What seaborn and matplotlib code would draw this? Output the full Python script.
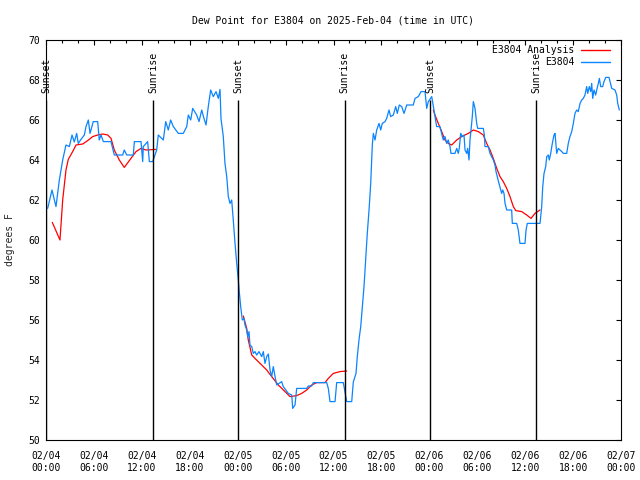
import numpy as np
import pandas as pd
import matplotlib
matplotlib.use("Agg")
import matplotlib.pyplot as plt
import matplotlib.dates as mdates
from matplotlib.lines import Line2D
import seaborn as sns

# ---------------- data ----------------
start = pd.Timestamp("2025-02-04 00:00")

blue_hours = [0.21, 0.75, 1.25, 1.67, 2.09, 2.50, 2.92, 3.26, 3.54, 3.84, 4.04, 4.38, 4.80, 5.01,
              5.30, 5.51, 5.92, 6.47, 6.67, 6.89, 7.18, 8.14, 8.55, 9.60, 9.80, 10.11, 10.93, 11.06,
              11.90, 12.11, 12.18, 12.73, 12.94, 13.36, 13.86, 14.06, 14.69, 14.99, 15.31, 15.61,
              15.94, 16.57, 17.19, 17.62, 17.82, 18.12, 18.37, 18.87, 19.16, 19.50, 19.78, 20.04,
              20.32, 20.62, 20.95, 21.29, 21.58, 21.79, 21.91, 22.20, 22.41, 22.63, 22.83, 23.04,
              23.25, 23.45, 23.67, 23.88, 24.08, 24.20, 24.38, 24.58, 24.79, 24.92, 25.13, 25.26,
              25.42, 25.54, 25.76, 25.96, 26.17, 26.38, 26.67, 27.01, 27.21, 27.42, 27.64, 27.84,
              28.05, 28.26, 28.46, 28.68, 28.89, 29.51, 29.71, 30.34, 30.77, 30.89, 31.18, 31.39,
              32.64, 32.85, 33.27, 33.47, 35.15, 35.35, 35.56, 36.19, 36.40, 37.23, 37.65, 38.28,
              38.48, 38.82, 38.98, 39.19, 39.41, 39.61, 39.82, 40.03, 40.23, 40.45, 40.66, 40.86,
              40.99, 41.20, 41.41, 41.70, 41.91, 42.11, 42.45, 42.66, 42.95, 43.16, 43.49, 43.79,
              43.99, 44.24, 44.54, 44.83, 45.17, 45.99, 46.21, 46.62, 46.96, 47.46, 47.67, 47.87,
              48.30, 48.50, 48.71, 48.92, 49.33, 49.54, 49.74, 49.96, 50.17, 50.37, 50.59, 50.71,
              51.21, 51.43, 51.63, 51.75, 51.93, 52.13, 52.34, 52.47, 52.68, 52.80, 52.97, 53.09,
              53.22, 53.38, 53.51, 53.72, 53.93, 54.06, 54.76, 54.89, 54.97, 55.38, 55.60, 56.01,
              56.22, 56.35, 56.56, 56.72, 56.94, 57.06, 57.19, 57.35, 57.48, 57.69, 58.31, 58.39,
              58.94, 59.14, 59.35, 59.98, 60.11, 60.27, 61.86, 62.07, 62.20, 62.36, 62.57, 62.70,
              62.90, 63.02, 63.20, 63.40, 63.61, 63.74, 63.95, 64.15, 64.58, 64.78, 65.20, 65.40,
              65.61, 65.83, 66.03, 66.24, 66.45, 66.65, 66.87, 67.08, 67.28, 67.49, 67.70, 67.83,
              68.03, 68.21, 68.33, 68.46, 68.62, 68.83, 68.96, 69.16, 69.29, 69.46, 69.71, 69.87,
              70.09, 70.50, 70.63, 70.84, 71.25, 71.46, 71.59, 71.79]
blue_values = [61.58, 62.50, 61.67, 63.00, 64.00, 64.75, 64.67, 65.25, 64.90, 65.33, 64.83, 65.03, 65.25, 65.67,
               66.00, 65.33, 65.92, 65.92, 65.00, 65.25, 64.92, 64.92, 64.25, 64.25, 64.50, 64.25, 64.25, 64.92,
               64.92, 63.92, 64.67, 64.92, 63.92, 63.92, 64.50, 65.25, 65.00, 65.92, 65.50, 66.00,
               65.67, 65.33, 65.33, 65.67, 66.25, 66.00, 66.58, 66.25, 65.92, 66.50, 66.08, 65.75,
               66.67, 67.50, 67.17, 67.42, 67.08, 67.53, 66.08, 65.17, 63.83, 63.17, 62.17, 61.83,
               62.00, 61.00, 59.83, 58.83, 58.00, 57.42, 56.67, 56.00, 56.08, 55.75, 55.50, 55.17,
               55.42, 54.75, 54.67, 54.33, 54.42, 54.25, 54.42, 54.17, 54.42, 53.83, 54.17, 54.30,
               53.50, 53.17, 53.67, 53.17, 52.75, 52.92, 52.67, 52.33, 52.25, 51.58, 51.75, 52.58,
               52.58, 52.70, 52.70, 52.87, 52.87, 52.58, 51.92, 51.92, 52.87, 52.87, 51.92, 51.92,
               52.90, 53.33, 54.17, 55.00, 55.67, 56.67, 57.67, 59.00, 60.33, 61.50, 62.83, 64.75,
               65.33, 65.00, 65.50, 65.83, 65.50, 65.83, 65.92, 66.08, 66.50, 66.17, 66.25, 66.67,
               66.33, 66.75, 66.67, 66.33, 66.75, 66.75, 67.08, 67.17, 67.42, 67.42, 66.58, 66.92,
               67.17, 66.67, 66.17, 65.67, 65.67, 65.33, 65.00, 65.17, 64.83, 65.00, 64.67, 64.33,
               64.33, 64.58, 64.33, 64.58, 65.33, 65.17, 65.25, 64.50, 64.33, 64.58, 64.00, 65.00,
               65.50, 66.17, 66.92, 66.58, 65.83, 65.58, 65.58, 65.25, 64.67, 64.67, 64.33, 64.00,
               63.75, 63.42, 63.08, 62.83, 62.50, 62.33, 62.50, 62.33, 61.83, 61.50, 61.50, 60.83,
               60.83, 60.50, 59.83, 59.83, 60.50, 60.83, 60.83, 61.67, 62.67, 63.33, 63.67, 64.17,
               64.25, 64.00, 64.33, 64.83, 65.25, 65.33, 64.33, 64.58, 64.42, 64.33, 64.33, 64.83,
               65.17, 65.42, 65.83, 66.33, 66.50, 66.42, 66.83, 67.00, 67.08, 67.25, 67.67, 67.33,
               67.67, 67.42, 67.83, 67.08, 67.50, 67.25, 67.50, 67.83, 68.08, 67.67, 67.67, 67.92,
               68.13, 68.13, 67.92, 67.58, 67.50, 67.25, 66.83, 66.50]

# analysis series; NaN marks a gap between segments
red_hours = [0.79, 1.75, 2.09, 2.50, 2.79, 3.34, 3.76, 4.60, 5.22, 5.85, 6.47, 7.10, 7.73, 8.14,
             8.55, 9.18, 9.80, 10.64, 11.27, 11.90, 12.52, 13.77,
             np.nan,
             24.71, 25.13, 25.33, 25.76, 26.17, 26.80, 27.64, 28.26, 29.09, 29.93, 30.55, 31.39,
             32.02, 32.64, 33.27, 33.90, 34.94, 35.35, 35.98, 36.81, 37.65,
             np.nan,
             48.50, 48.71, 49.12, 49.55, 49.96, 50.38, 50.80, 51.43, 52.05, 52.88, 53.51, 54.13,
             54.76, 55.18, 55.60, 56.01, 56.44, 56.85, 57.26, 57.69, 58.10, 58.52, 58.82, 59.57,
             60.19, 60.73, 61.23, 61.86]
red_values = [60.88, 60.00, 62.00, 63.50, 64.03, 64.42, 64.75, 64.80, 64.97, 65.17, 65.25, 65.30, 65.25, 65.08,
              64.50, 64.00, 63.63, 64.08, 64.42, 64.58, 64.50, 64.53,
              np.nan,
              56.20, 55.58, 55.00, 54.25, 54.08, 53.83, 53.50, 53.17, 52.75, 52.42, 52.17, 52.22,
              52.33, 52.50, 52.75, 52.87, 52.87, 53.08, 53.33, 53.42, 53.45,
              np.nan,
              66.50, 66.25, 65.83, 65.42, 65.00, 64.83, 64.75, 65.00, 65.17, 65.33, 65.50, 65.42,
              65.25, 64.83, 64.50, 64.08, 63.58, 63.17, 62.92, 62.58, 62.17, 61.67, 61.47, 61.42,
              61.25, 61.08, 61.33, 61.50]

sun_hours = [0.0, 13.40, 24.04, 37.38, 48.08, 61.36]
sun_labels = ["Sunset", "Sunrise", "Sunset", "Sunrise", "Sunset", "Sunrise"]
sun_line_top = 67.0

series_names = ["E3804 Analysis", "E3804"]
title = "Dew Point for E3804 on 2025-Feb-04 (time in UTC)"
ylabel = "degrees F"
y_ticks = list(range(50, 71, 2))
x_span_hours = 72

# ---------------- build frames ----------------
blue_df = pd.DataFrame({"time": start + pd.to_timedelta(blue_hours, unit="h"),
                        "value": blue_values})
red_h = np.array(red_hours, dtype=float)
red_df = pd.DataFrame({"hours": red_h, "value": red_values})
red_df["seg"] = red_df["hours"].isna().cumsum()
red_df = red_df.dropna().copy()
red_df["time"] = start + pd.to_timedelta(red_df["hours"], unit="h")
sun_times = [start + pd.Timedelta(hours=h) for h in sun_hours]

# ---------------- style ----------------
sns.set_style("white")
plt.rcParams["font.family"] = ["DejaVu Sans Mono"]
plt.rcParams["font.size"] = 7
plt.rcParams["text.color"] = "black"
plt.rcParams["xtick.color"] = "black"
plt.rcParams["ytick.color"] = "black"
plt.rcParams["axes.edgecolor"] = "black"

RED = "#ff0000"
BLUE = "#0a84ff"

fig = plt.figure(figsize=(6.4, 4.8), dpi=100)
ax = fig.add_axes([46 / 640, 40 / 480, 575 / 640, 400 / 480])

sns.lineplot(data=red_df, x="time", y="value", units="seg", estimator=None,
             color=RED, lw=0.9, ax=ax, legend=False, zorder=2)
sns.lineplot(data=blue_df, x="time", y="value", estimator=None,
             color=BLUE, lw=0.9, ax=ax, legend=False, zorder=3)

ax.vlines(sun_times, 50, sun_line_top, color="black", lw=1.0, zorder=5)
for t, lab in zip(sun_times, sun_labels):
    ax.text(t, sun_line_top + 0.35, lab, rotation=90, ha="center", va="bottom",
            fontsize=7, clip_on=False, zorder=6)

ax.set_xlim(start, start + pd.Timedelta(hours=x_span_hours))
ax.set_ylim(min(y_ticks), max(y_ticks))
ax.set_yticks(y_ticks)

ax.xaxis.set_major_locator(mdates.HourLocator(byhour=[0, 6, 12, 18]))
ax.xaxis.set_minor_locator(mdates.HourLocator(byhour=list(range(0, 24, 2))))
ax.xaxis.set_major_formatter(mdates.DateFormatter("%m/%d\n%H:%M"))

ax.tick_params(which="both", direction="in", top=True, right=True, width=0.8,
               labelsize=7)
ax.tick_params(which="major", length=3.4)
ax.tick_params(which="minor", length=1.8)
ax.tick_params(axis="x", which="major", pad=8)
ax.tick_params(axis="y", which="major", pad=4.5)

for s in ax.spines.values():
    s.set_linewidth(0.8)
    s.set_color("black")

ax.set_xlabel("")
ax.set_ylabel(ylabel, fontsize=7)
ax.yaxis.set_label_coords(-31 / 575, 0.5)
ax.set_title(title, fontsize=7, pad=12)

handles = [Line2D([], [], color=RED, lw=1.0), Line2D([], [], color=BLUE, lw=1.0)]
ax.legend(handles, series_names, loc="upper right", bbox_to_anchor=(1 - 11 / 575, 1 - 5 / 400),
          frameon=False, markerfirst=False, borderaxespad=0, borderpad=0,
          handlelength=3.0, handletextpad=0.7, labelspacing=0.2, fontsize=7)

fig.savefig("out.png", dpi=100)
